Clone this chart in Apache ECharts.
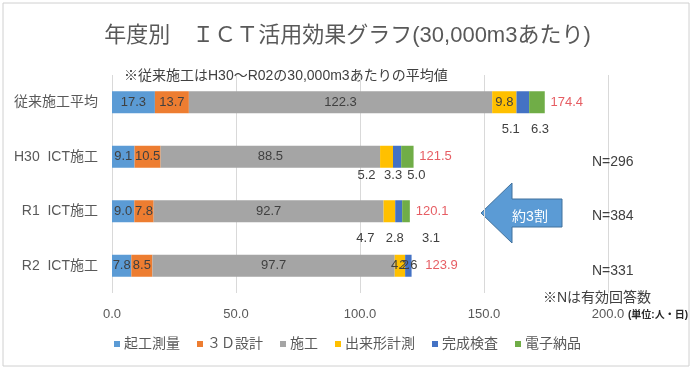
<!DOCTYPE html>
<html>
<head>
<meta charset="utf-8">
<script src="https://cdn.jsdelivr.net/npm/echarts@6/dist/echarts.min.js"></script>
<style>
html,body{margin:0;padding:0;background:#fff;}
#chart{width:695px;height:373px;}
</style>
</head>
<body>
<div id="chart"></div>
<script>
// ---- data ----
const categories = ['従来施工平均', 'H30  ICT施工', 'R1  ICT施工', 'R2  ICT施工'];
const seriesNames = ['起工測量', '３Ｄ設計', '施工', '出来形計測', '完成検査', '電子納品'];
const kikouSokuryou = [17.3, 9.1, 9.0, 7.8];
const sekkei3D = [13.7, 10.5, 7.8, 8.5];
const sekou = [122.3, 88.5, 92.7, 97.7];
const dekigataKeisoku = [9.8, 5.2, 4.7, 4.2];
const kanseiKensa = [5.1, 3.3, 2.8, 2.6];
const denshiNouhin = [6.3, 5.0, 3.1, 0];
const totals = [174.4, 121.5, 120.1, 123.9];
const nLabels = ['', 'N=296', 'N=384', 'N=331'];
const xTicks = [0, 50, 100, 150, 200];

// ---- style ----
const FONT = "'Liberation Sans', 'Noto Sans CJK JP', sans-serif";
const colors = ['#5b9bd5', '#ed7d31', '#a5a5a5', '#ffc000', '#4472c4', '#70ad47'];
const seriesValues = [kikouSokuryou, sekkei3D, sekou, dekigataKeisoku, kanseiKensa, denshiNouhin];
// labels drawn below the bar: series index -> row index -> [dx, distance]
const belowLabel = {
  3: {1: [-20, 1], 2: [-24, 10]},
  4: {0: [-12, 10], 1: [-4, 1], 2: [-4, 10]},
  5: {0: [3, 10], 1: [9, 1], 2: [25, 10]}
};

const chart = echarts.init(document.getElementById('chart'));

const barSeries = seriesNames.map((name, si) => ({
  name: name,
  type: 'bar',
  stack: 'total',
  barWidth: 22,
  itemStyle: {color: colors[si]},
  label: {
    show: true,
    position: 'inside',
    color: '#404040',
    fontSize: 13,
    fontFamily: FONT,
    formatter: p => p.value ? p.value.toFixed(1) : ''
  },
  data: seriesValues[si].map((v, ri) => {
    const b = belowLabel[si] && belowLabel[si][ri];
    if (!b) return v;
    return {value: v, label: {position: 'bottom', offset: [b[0], 0], distance: b[1]}};
  })
}));

const totalSeries = {
  name: '合計',
  type: 'scatter',
  symbolSize: 0,
  silent: true,
  data: totals.map((t, i) => [t, i]),
  label: {
    show: true,
    position: 'right',
    distance: 6,
    color: '#e0343c',
    fontSize: 13,
    fontFamily: FONT,
    formatter: p => p.value[0].toFixed(1)
  },
  z: 5
};

chart.setOption({
  animation: false,
  textStyle: {fontFamily: FONT},
  title: {
    text: '年度別　ＩＣＴ活用効果グラフ(30,000m3あたり)',
    left: 'center',
    top: 20,
    textStyle: {fontSize: 22, fontWeight: 'normal', color: '#595959', fontFamily: FONT}
  },
  legend: {
    data: seriesNames,
    bottom: 17,
    left: 'center',
    icon: 'rect',
    itemWidth: 6,
    itemHeight: 6,
    itemGap: 17,
    textStyle: {fontSize: 14, color: '#595959', fontFamily: FONT, padding: [0, 0, 0, -1]}
  },
  grid: {left: 112, right: 87, top: 75, bottom: 80, containLabel: false},
  xAxis: {
    type: 'value',
    min: xTicks[0],
    max: xTicks[xTicks.length - 1],
    interval: xTicks[1] - xTicks[0],
    axisLine: {show: false},
    axisTick: {show: false},
    splitLine: {lineStyle: {color: '#d9d9d9'}},
    axisLabel: {color: '#595959', fontSize: 13, margin: 15, formatter: v => v.toFixed(1)}
  },
  yAxis: [{
    type: 'category',
    data: categories,
    inverse: true,
    axisLine: {show: false},
    axisTick: {show: false},
    axisLabel: {color: '#595959', fontSize: 14, margin: 14}
  }, {
    type: 'category',
    data: nLabels,
    inverse: true,
    position: 'right',
    axisLine: {show: false},
    axisTick: {show: false},
    axisLabel: {color: '#404040', fontSize: 14, margin: -16, align: 'left', verticalAlign: 'top', lineHeight: 10}
  }],
  series: barSeries.concat([totalSeries]),
  graphic: [
    {type: 'rect', shape: {x: 3, y: 3, width: 686, height: 363}, style: {fill: 'none', stroke: '#d0d0d0', lineWidth: 1}, silent: true, z: -1},
    {type: 'text', x: 124, y: 76, style: {text: '※従来施工はH30～R02の30,000m3あたりの平均値', fill: '#404040', font: '14px ' + FONT, textVerticalAlign: 'middle'}},
    {type: 'text', x: 543, y: 298, style: {text: '※Nは有効回答数', fill: '#404040', font: '14px ' + FONT, textVerticalAlign: 'middle'}},
    {type: 'text', x: 628, y: 315, style: {text: '(単位:人・日)', fill: '#262626', font: 'bold 10px ' + FONT, textVerticalAlign: 'middle'}},
    {type: 'polygon', shape: {points: [[481, 213], [512, 183], [512, 199], [562, 199], [562, 227], [512, 227], [512, 243]]}, style: {fill: '#5b9bd5', stroke: '#41719c', lineWidth: 1}},
    {type: 'text', x: 530, y: 217, style: {text: '約3割', fill: '#ffffff', font: '14px ' + FONT, textAlign: 'center', textVerticalAlign: 'middle'}}
  ]
});
</script>
</body>
</html>
